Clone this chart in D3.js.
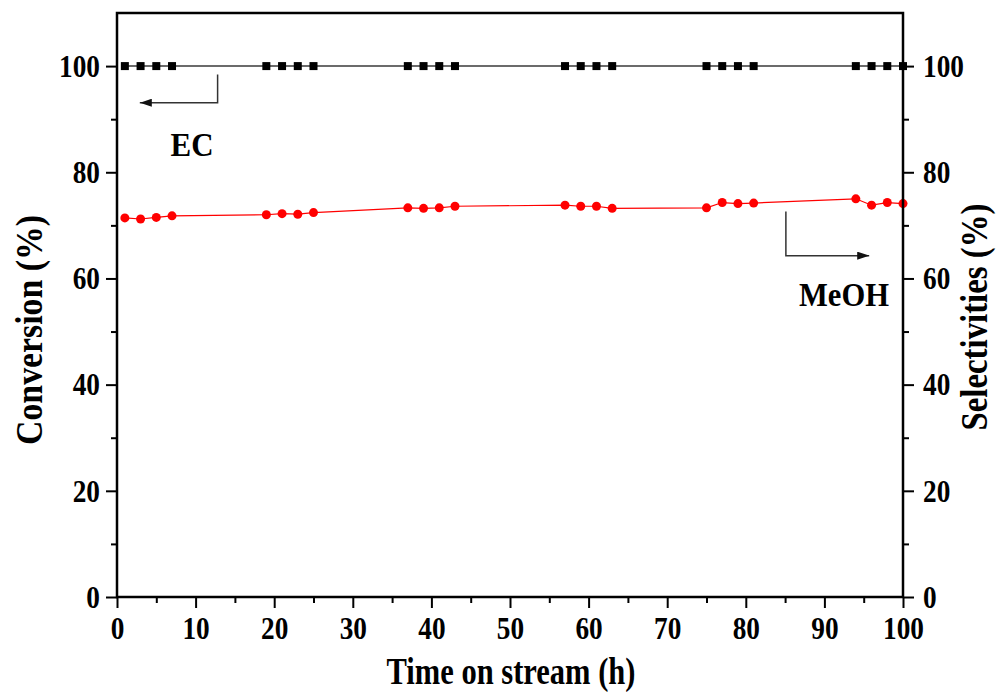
<!DOCTYPE html>
<html>
<head>
<meta charset="utf-8">
<script src="https://cdn.jsdelivr.net/npm/d3@7/dist/d3.min.js"></script>
<style>
  body { margin: 0; background: #fff; }
  text { font-family: "Liberation Serif", "Times New Roman", serif; font-weight: bold; fill: #000; }
</style>
</head>
<body>
<div id="chart"></div>
<script>
// data
const time = [1, 3, 5, 7, 19, 21, 23, 25, 37, 39, 41, 43, 57, 59, 61, 63, 75, 77, 79, 81, 94, 96, 98, 100];
const ecConversion = [100, 100, 100, 100, 100, 100, 100, 100, 100, 100, 100, 100,
                      100, 100, 100, 100, 100, 100, 100, 100, 100, 100, 100, 100];
const meohSelectivity = [71.4, 71.2, 71.5, 71.8, 72.0, 72.2, 72.1, 72.4, 73.3, 73.2, 73.3, 73.6,
                         73.8, 73.6, 73.6, 73.2, 73.3, 74.3, 74.1, 74.2, 75.0, 73.8, 74.3, 74.1];
const xTicks = [0, 10, 20, 30, 40, 50, 60, 70, 80, 90, 100];
const yTicks = [0, 20, 40, 60, 80, 100];
// annotation arrows (data coords)
const ecArrow = [[12.8, 98.4], [12.8, 93.1], [2.9, 93.1]];
const meohArrow = [[85.1, 72.6], [85.1, 64.3], [95.7, 64.3]];

const width = 998, height = 693;
const margin = {top: 13, right: 95, bottom: 96, left: 117};
const squeeze = 0.88;

const svg = d3.select("#chart").append("svg")
    .attr("width", width)
    .attr("height", height);

svg.append("defs").append("marker")
    .attr("id", "head")
    .attr("viewBox", "0 0 12 8")
    .attr("refX", 12).attr("refY", 4)
    .attr("markerWidth", 12).attr("markerHeight", 8)
    .attr("markerUnits", "userSpaceOnUse")
    .attr("orient", "auto")
    .append("path")
    .attr("d", "M0,0 L12,4 L0,8 Z")
    .attr("fill", "#111");

const x = d3.scaleLinear().domain([0, 100]).range([margin.left, width - margin.right]);
const y = d3.scaleLinear().domain([0, 110]).range([height - margin.bottom, margin.top]);

// EC line + squares
const line = d3.line().x((d, i) => x(time[i])).y(d => y(d));

svg.append("path")
    .datum(ecConversion)
    .attr("d", line)
    .attr("fill", "none")
    .attr("stroke", "#6b6b6b")
    .attr("stroke-width", 2);

svg.selectAll(".sq")
    .data(ecConversion)
    .join("rect")
    .attr("class", "sq")
    .attr("x", (d, i) => x(time[i]) - 4)
    .attr("y", d => y(d) - 4)
    .attr("width", 8).attr("height", 8)
    .attr("fill", "#000");

// MeOH line + circles
svg.append("path")
    .datum(meohSelectivity)
    .attr("d", line)
    .attr("fill", "none")
    .attr("stroke", "#ff0000")
    .attr("stroke-width", 1.2);

svg.selectAll(".dot")
    .data(meohSelectivity)
    .join("circle")
    .attr("class", "dot")
    .attr("cx", (d, i) => x(time[i]))
    .attr("cy", d => y(d))
    .attr("r", 4.5)
    .attr("fill", "#ff0000");

// axes
const xMinor = d3.range(5, 100, 10);
const yMinor = d3.range(10, 110, 20);

const gx = svg.append("g").attr("transform", `translate(0,${y(0)})`);
gx.call(d3.axisBottom(x).tickValues(xTicks).tickSize(11).tickFormat(d3.format("d")));
gx.append("g").call(d3.axisBottom(x).tickValues(xMinor).tickSize(6).tickFormat(""));

const gl = svg.append("g").attr("transform", `translate(${x(0)},0)`);
gl.call(d3.axisLeft(y).tickValues(yTicks).tickSize(11).tickFormat(d3.format("d")));
gl.append("g").call(d3.axisLeft(y).tickValues(yMinor).tickSize(6).tickFormat(""));

const gr = svg.append("g").attr("transform", `translate(${x(100)},0)`);
gr.call(d3.axisRight(y).tickValues(yTicks).tickSize(11).tickFormat(d3.format("d")));
gr.append("g").call(d3.axisRight(y).tickValues(yMinor).tickSize(6).tickFormat(""));

svg.selectAll(".domain").remove();
svg.selectAll(".tick line").attr("stroke", "#000").attr("stroke-width", 2);
svg.selectAll(".tick text")
    .style("font-size", "31px")
    .style("font-family", "'Liberation Serif', serif")
    .style("font-weight", "bold")
    .attr("fill", "#000");

gx.selectAll(".tick text").attr("y", 42).attr("dy", 0)
    .attr("transform", `scale(${squeeze},1)`);
gl.selectAll(".tick text").attr("x", -17 / squeeze).attr("dy", "0.33em")
    .attr("transform", `scale(${squeeze},1)`);
gr.selectAll(".tick text").attr("x", 20 / squeeze).attr("dy", "0.33em")
    .attr("transform", `scale(${squeeze},1)`);

// frame
svg.append("rect")
    .attr("x", x(0)).attr("y", y(110))
    .attr("width", x(100) - x(0))
    .attr("height", y(0) - y(110))
    .attr("fill", "none")
    .attr("stroke", "#000")
    .attr("stroke-width", 2.5);

// arrows
const arrowLine = d3.line().x(d => x(d[0])).y(d => y(d[1]));
[ecArrow, meohArrow].forEach(a => {
    svg.append("path")
        .attr("d", arrowLine(a))
        .attr("fill", "none")
        .attr("stroke", "#333")
        .attr("stroke-width", 1.5)
        .attr("marker-end", "url(#head)");
});

// labels
function label(txt, px, py, size, targetW, rotate) {
    const t = svg.append("text")
        .attr("text-anchor", "middle")
        .style("font-size", size + "px")
        .text(txt);
    const w = t.node().getComputedTextLength();
    const s = targetW / w;
    t.attr("transform", `translate(${px},${py})` + (rotate ? ` rotate(${rotate})` : "") + ` scale(${s},1)`);
    return t;
}

label("EC", 192, 156, 33, 43);
label("MeOH", 844, 306, 33, 90);
label("Time on stream (h)", 511, 684, 37, 249);
label("Conversion (%)", 42, 330, 38, 230, -90);
label("Selectivities (%)", 987, 317, 38, 227, -90);
</script>
</body>
</html>
